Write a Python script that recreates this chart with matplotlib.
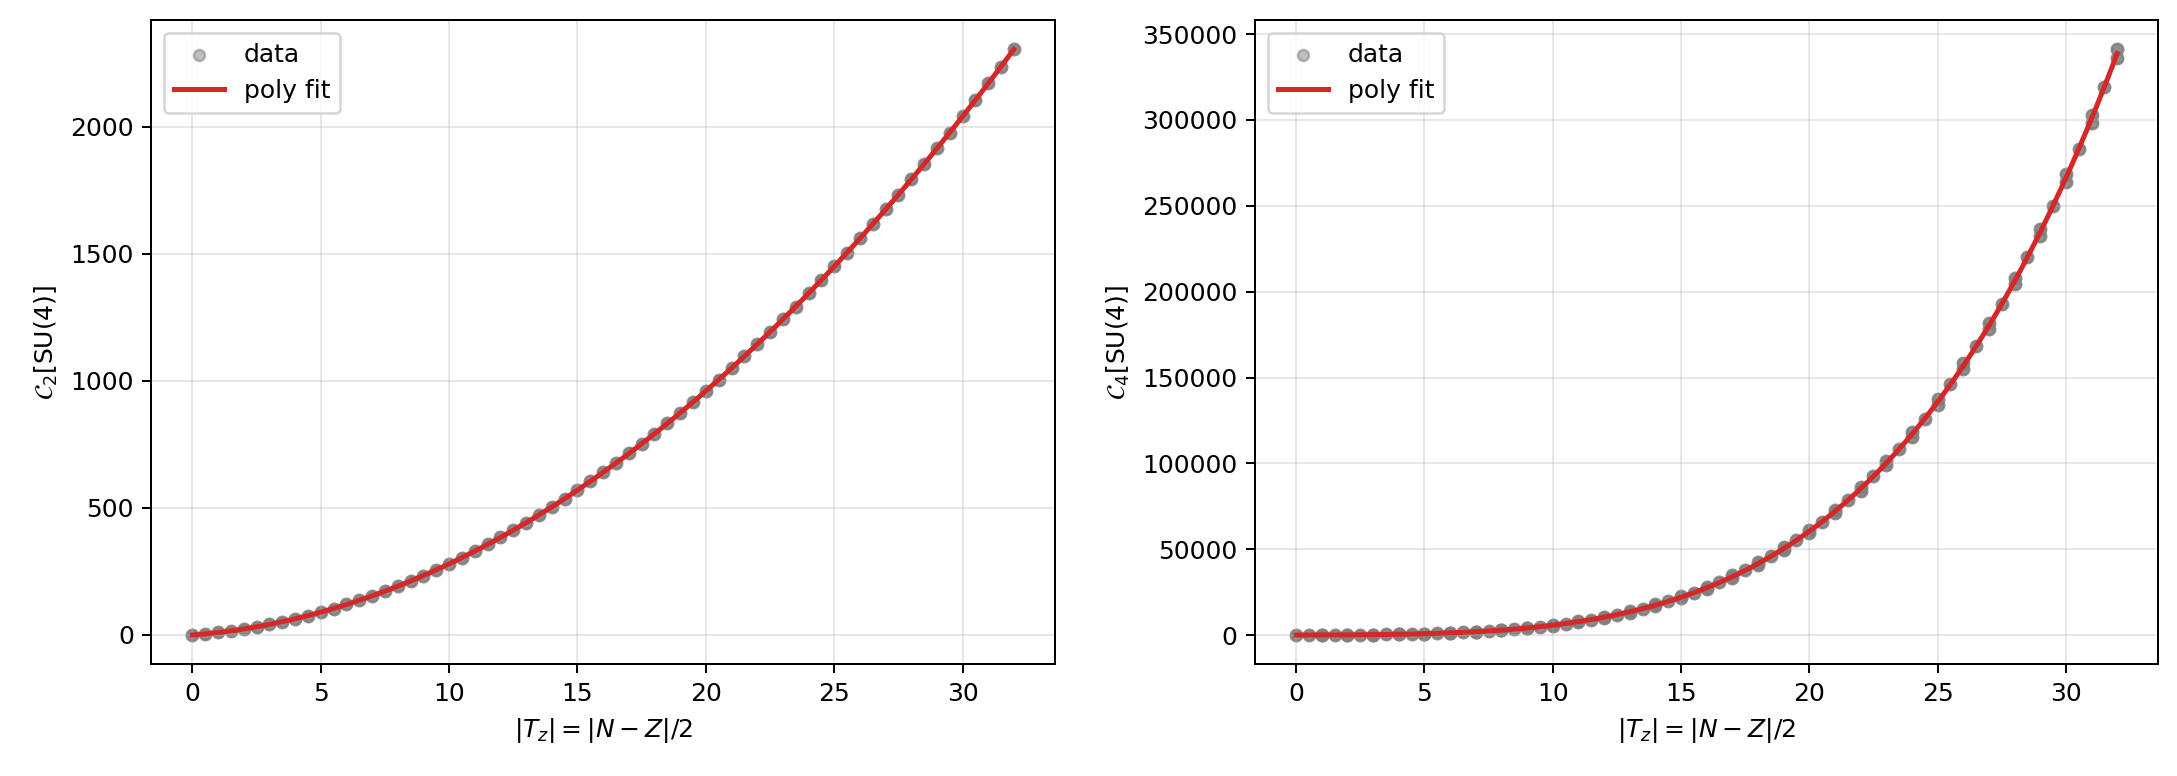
import numpy as np
import matplotlib
matplotlib.use('Agg')
import matplotlib.pyplot as plt

# |Tz| values (half-integer steps)
tz = [0, 0.5, 1, 1.5, 2, 2.5, 3, 3.5, 4, 4.5, 5, 5.5, 6, 6.5, 7, 7.5, 8, 8.5, 9, 9.5,
      10, 10.5, 11, 11.5, 12, 12.5, 13, 13.5, 14, 14.5, 15, 15.5, 16, 16.5, 17, 17.5,
      18, 18.5, 19, 19.5, 20, 20.5, 21, 21.5, 22, 22.5, 23, 23.5, 24, 24.5, 25, 25.5,
      26, 26.5, 27, 27.5, 28, 28.5, 29, 29.5, 30, 30.5, 31, 31.5, 32]

# quadratic Casimir C2[SU(4)]
c2 = [0, 4, 10, 16, 24, 32, 42, 52, 64, 76, 90, 104, 120, 136, 154, 172, 192, 212, 234, 256,
      280, 304, 330, 356, 384, 412, 442, 472, 504, 536, 570, 604, 640, 676, 714, 752,
      792, 832, 874, 916, 960, 1004, 1050, 1096, 1144, 1192, 1242, 1292, 1344, 1396, 1450, 1504,
      1560, 1616, 1674, 1732, 1792, 1852, 1914, 1976, 2040, 2104, 2170, 2236, 2304]

# quartic Casimir C4[SU(4)]
c4 = [0, 15, 38, 67, 118, 164, 258, 330, 486, 595, 836, 996, 1346, 1574, 2062, 2377,
      3034, 3460, 4318, 4882, 5980, 6709, 8086, 9013, 10714, 11872, 13942, 15371, 17858, 19599,
      22556, 24652, 28134, 30633, 34698, 37649, 42358, 45814, 51230, 55248, 61440, 66077,
      73114, 78434, 86390, 92456, 101406, 108287, 118310, 126078, 137256, 145984, 158402, 168167,
      181914, 192795, 207962, 220042, 236722, 250089, 268380, 283121, 303122, 319330, 341146]

# second branch at integer |Tz| (slightly lower C4)
tz_int = [1, 2, 3, 4, 5, 6, 7, 8, 9, 10, 11, 12, 13, 14, 15, 16,
          17, 18, 19, 20, 21, 22, 23, 24, 25, 26, 27, 28, 29, 30, 31, 32]
c4_int = [34, 98, 214, 410, 716, 1174, 1826, 2726, 3930, 5500, 7506, 10022, 13130, 16918, 21476, 26906,
          33310, 40802, 49498, 59520, 70998, 84066, 98866, 115546, 134256, 155158, 178414, 204198,
          232686, 264060, 298510, 336230]

W, H, DPI = 2177, 776, 180
fig = plt.figure(figsize=(W / DPI, H / DPI), dpi=DPI)
ax1 = fig.add_axes([0.0695, 0.1439, 0.4151, 0.8303])
ax2 = fig.add_axes([0.5765, 0.1439, 0.4149, 0.8303])

xlabel = r'$|T_z| = |N-Z|/2$'
xfit = np.linspace(0, 32, 300)
ms = 20

# left: C2
ax1.scatter(tz, c2, s=ms, color='gray', alpha=0.5, label='data')
for _ in range(2):
    ax1.scatter(tz, c2, s=ms, color='gray', alpha=0.5)
p2 = np.polyfit(tz, c2, 2)
ax1.plot(xfit, np.polyval(p2, xfit), color='#d62728', lw=2, label='poly fit')
ax1.set_xlabel(xlabel)
ax1.set_ylabel(r'$\mathcal{C}_2[\mathrm{SU(4)}]$')
ax1.grid(True, alpha=0.3)
ax1.legend(loc='upper left')

# right: C4
ax2.scatter(tz, c4, s=ms, color='gray', alpha=0.5, label='data')
ax2.scatter(tz_int, c4_int, s=ms, color='gray', alpha=0.5)
for _ in range(2):
    ax2.scatter(tz, c4, s=ms, color='gray', alpha=0.5)
    ax2.scatter(tz_int, c4_int, s=ms, color='gray', alpha=0.5)
p4 = np.polyfit(tz + tz_int, c4 + c4_int, 4)
ax2.plot(xfit, np.polyval(p4, xfit), color='#d62728', lw=2, label='poly fit')
ax2.set_xlabel(xlabel)
ax2.set_ylabel(r'$\mathcal{C}_4[\mathrm{SU(4)}]$')
ax2.grid(True, alpha=0.3)
ax2.legend(loc='upper left')

fig.savefig('out.png', dpi=DPI)
